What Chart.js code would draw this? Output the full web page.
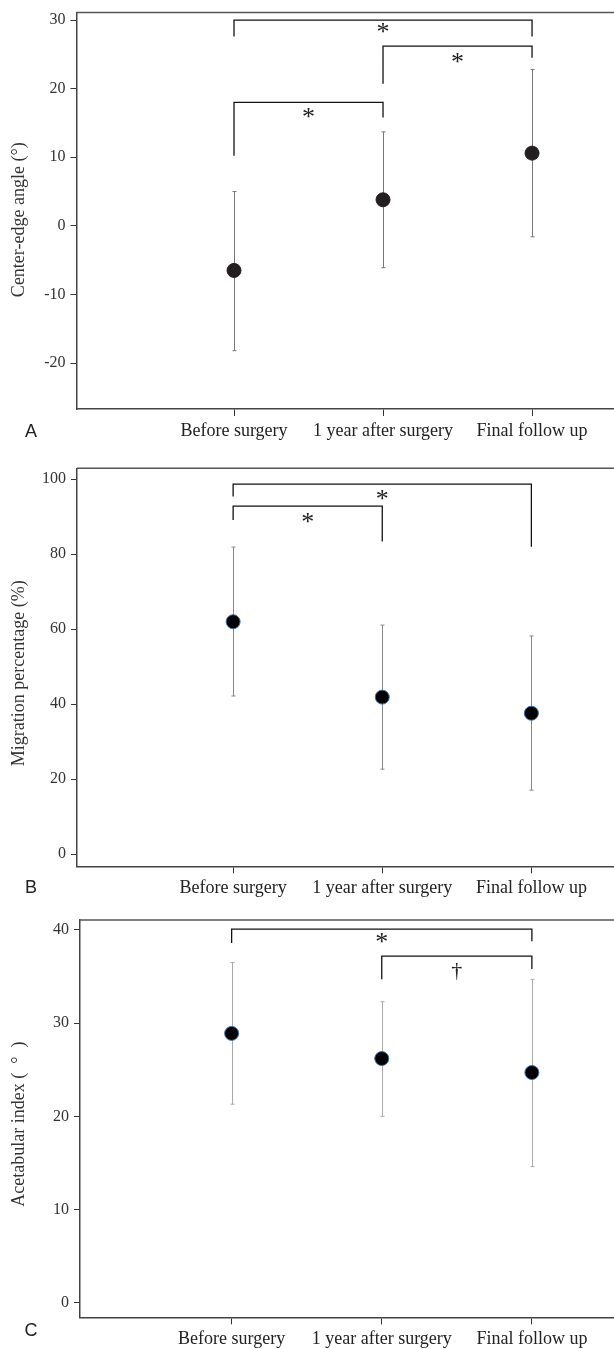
<!DOCTYPE html>
<html>
<head>
<meta charset="utf-8">
<script src="https://cdn.jsdelivr.net/npm/chart.js@4/dist/chart.umd.min.js"></script>
<style>
html, body { margin: 0; padding: 0; background: #fff; }
.panel { position: relative; width: 614px; }
canvas { display: block; }
</style>
</head>
<body>
<div class="panel" style="height:448px"><canvas id="chartA"></canvas></div>
<div class="panel" style="height:452px"><canvas id="chartB"></canvas></div>
<div class="panel" style="height:449px"><canvas id="chartC"></canvas></div>
<script>
// DATA
const groups = ["Before surgery", "1 year after surgery", "Final follow up"];

// A - center-edge angle
const ceMean = [-6.5, 3.8, 10.6];
const ceLow = [-18.2, -6.1, -1.6];
const ceHigh = [5.0, 13.7, 22.8];
const ceTicks = [-20, -10, 0, 10, 20, 30];
const ceBrFrom = [1, 2, 1];
const ceBrTo = [3, 3, 2];
const ceBrTop = [30, 26.2, 18.0];
const ceBrLeft = [27.6, 20.7, 10.2];
const ceBrRight = [27.6, 24.5, 15.8];
const ceBrMark = ["*", "*", "*"];
const ceBrMarkY = [28.4, 23.9, 16.0];

// B - migration percentage
const mpMean = [62.0, 41.9, 37.6];
const mpLow = [42.2, 22.7, 17.1];
const mpHigh = [81.9, 61.1, 58.2];
const mpTicks = [0, 20, 40, 60, 80, 100];
const mpBrFrom = [1, 1];
const mpBrTo = [3, 2];
const mpBrTop = [98.7, 92.8];
const mpBrLeft = [95.4, 89.1];
const mpBrRight = [82.0, 83.4];
const mpBrMark = ["*", "*"];
const mpBrMarkY = [94.8, 88.7];

// C - acetabular index
const aiMean = [28.9, 26.2, 24.7];
const aiLow = [21.3, 20.0, 14.6];
const aiHigh = [36.5, 32.3, 34.7];
const aiTicks = [0, 10, 20, 30, 40];
const aiBrFrom = [1, 2];
const aiBrTo = [3, 3];
const aiBrTop = [40.1, 37.2];
const aiBrLeft = [38.6, 34.7];
const aiBrRight = [38.8, 35.8];
const aiBrMark = ["*", "\u2020"];
const aiBrMarkY = [38.8, 35.6];

const SERIF = '"Liberation Serif", "Times New Roman", serif';

// PLUGINS
const errorBars = {
  id: "errorBars",
  beforeDatasetsDraw(chart, args, opts) {
    const { ctx, scales: { x, y } } = chart;
    ctx.save();
    ctx.strokeStyle = opts.color;
    ctx.lineWidth = 1;
    opts.low.forEach((lo, i) => {
      const px = Math.round(x.getPixelForValue(i + 1)) + 0.5;
      const y1 = y.getPixelForValue(lo);
      const y2 = y.getPixelForValue(opts.high[i]);
      ctx.beginPath();
      ctx.moveTo(px, y1); ctx.lineTo(px, y2);
      ctx.moveTo(px - 2, y1); ctx.lineTo(px + 2, y1);
      ctx.moveTo(px - 2, y2); ctx.lineTo(px + 2, y2);
      ctx.stroke();
    });
    ctx.restore();
  }
};

const marks = {
  id: "marks",
  afterDatasetsDraw(chart, args, opts) {
    const { ctx, scales: { x, y } } = chart;
    ctx.save();
    ctx.fillStyle = "#222";
    ctx.textAlign = "center";
    ctx.textBaseline = "middle";
    opts.text.forEach((t, i) => {
      const size = t === "*" ? 26 : 22;
      ctx.font = size + "px " + SERIF;
      const px = x.getPixelForValue((opts.from[i] + opts.to[i]) / 2);
      const py = y.getPixelForValue(opts.y[i]);
      ctx.fillText(t, px, t === "*" ? py + 0.065 * size : py);
    });
    ctx.restore();
  }
};

const frame = {
  id: "frame",
  afterDraw(chart, args, opts) {
    const { ctx, chartArea: a } = chart;
    ctx.save();
    ctx.strokeStyle = "#555";
    ctx.lineWidth = 1.5;
    ctx.beginPath();
    ctx.moveTo(a.left, a.top);
    ctx.lineTo(a.right, a.top);
    ctx.stroke();
    // y title
    ctx.fillStyle = "#333";
    ctx.font = "18px " + SERIF;
    ctx.textAlign = "center";
    ctx.textBaseline = "middle";
    ctx.translate(19, (a.top + a.bottom) / 2 + opts.titleShift);
    ctx.rotate(-Math.PI / 2);
    ctx.fillText(opts.title, 0, 0);
    ctx.setTransform(1, 0, 0, 1, 0, 0);
    // panel letter
    ctx.font = '18px "Liberation Sans", Arial, sans-serif';
    ctx.fillStyle = "#222";
    ctx.fillText(opts.letter, 31, opts.letterY);
    ctx.restore();
  }
};

// PANEL BUILDER
function makePanel(id, p) {
  const datasets = [{
    data: p.mean.map((v, i) => ({ x: i + 1, y: v })),
    showLine: false,
    pointRadius: 7,
    pointHoverRadius: 7,
    pointBackgroundColor: p.dot,
    pointBorderColor: p.dotBorder,
    pointBorderWidth: 1
  }];
  p.brFrom.forEach((f, i) => {
    datasets.push({
      data: [
        { x: f, y: p.brLeft[i] },
        { x: f, y: p.brTop[i] },
        { x: p.brTo[i], y: p.brTop[i] },
        { x: p.brTo[i], y: p.brRight[i] }
      ],
      borderColor: "#111",
      borderWidth: 1.3,
      pointRadius: 0,
      tension: 0,
      fill: false
    });
  });

  new Chart(document.getElementById(id), {
    type: "line",
    data: { datasets },
    options: {
      responsive: true,
      maintainAspectRatio: false,
      animation: false,
      layout: { autoPadding: false, padding: { top: p.top, left: 0, right: 0, bottom: 0 } },
      plugins: {
        legend: { display: false },
        tooltip: { enabled: false },
        errorBars: { low: p.low, high: p.high, color: p.barColor },
        marks: { from: p.brFrom, to: p.brTo, text: p.brMark, y: p.brMarkY },
        frame: { letter: p.letter, letterY: p.letterY, title: p.title, titleShift: p.titleShift }
      },
      scales: {
        x: {
          type: "linear",
          min: p.xmin,
          max: p.xmax,
          afterBuildTicks: s => { s.ticks = [1, 2, 3].map(v => ({ value: v })); },
          afterFit: s => { s.height = p.xh; s.paddingLeft = 0; s.paddingRight = 0; },
          grid: { drawOnChartArea: false, drawTicks: true, tickLength: 7, color: "#333" },
          border: { color: "#444", width: 1.5 },
          ticks: {
            autoSkip: false, maxRotation: 0, minRotation: 0, padding: 4,
            color: "#222", font: { family: SERIF, size: 18 },
            callback: v => groups[v - 1]
          }
        },
        y: {
          min: p.ymin,
          max: p.ymax,
          afterBuildTicks: s => { s.ticks = p.ticks.map(v => ({ value: v })); },
          afterFit: s => { s.width = p.left; s.paddingTop = 0; s.paddingBottom = 0; },
          grid: { drawOnChartArea: false, drawTicks: true, tickLength: 6, color: "#333" },
          border: { color: "#444", width: 1.5 },
          ticks: { padding: 5, color: "#333", font: { family: SERIF, size: 16 } }
        }
      }
    },
    plugins: [errorBars, marks, frame]
  });
}

makePanel("chartA", {
  mean: ceMean, low: ceLow, high: ceHigh, ticks: ceTicks,
  brFrom: ceBrFrom, brTo: ceBrTo, brTop: ceBrTop, brLeft: ceBrLeft, brRight: ceBrRight,
  brMark: ceBrMark, brMarkY: ceBrMarkY,
  title: "Center-edge angle (\u00b0)", titleShift: 9, letter: "A", letterY: 432,
  dot: "#231f20", dotBorder: "#231f20", barColor: "#777",
  top: 12.5, xh: 39, left: 76.5, ymin: -26.7, ymax: 31.1, xmin: -0.057, xmax: 3.55
});

makePanel("chartB", {
  mean: mpMean, low: mpLow, high: mpHigh, ticks: mpTicks,
  brFrom: mpBrFrom, brTo: mpBrTo, brTop: mpBrTop, brLeft: mpBrLeft, brRight: mpBrRight,
  brMark: mpBrMark, brMarkY: mpBrMarkY,
  title: "Migration percentage (%)", titleShift: 6, letter: "B", letterY: 440,
  dot: "#000", dotBorder: "#3b6fb6", barColor: "#888",
  top: 20.3, xh: 33.7, left: 77, ymin: -3.2, ymax: 102.9, xmin: -0.047, xmax: 3.554
});

makePanel("chartC", {
  mean: aiMean, low: aiLow, high: aiHigh, ticks: aiTicks,
  brFrom: aiBrFrom, brTo: aiBrTo, brTop: aiBrTop, brLeft: aiBrLeft, brRight: aiBrRight,
  brMark: aiBrMark, brMarkY: aiBrMarkY,
  title: "Acetabular index (  \u00b0  )", titleShift: 5.5, letter: "C", letterY: 431,
  dot: "#000", dotBorder: "#3b6fb6", barColor: "#aaa",
  top: 20, xh: 31.7, left: 80, ymin: -1.57, ymax: 41.07, xmin: -0.01, xmax: 3.547
});
</script>
</body>
</html>
